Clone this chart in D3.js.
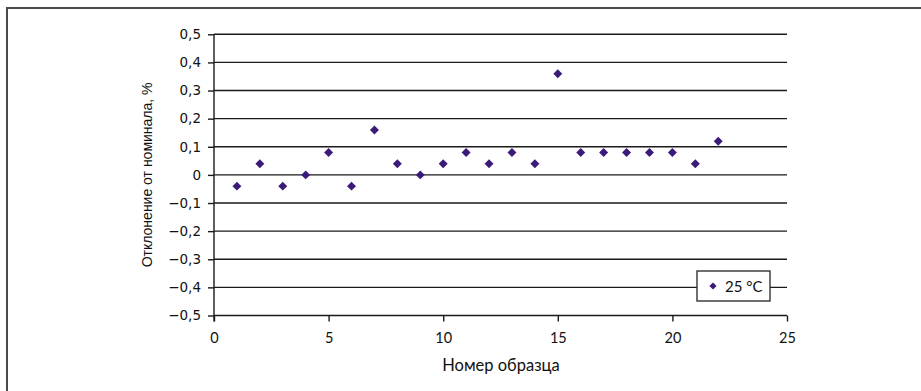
<!DOCTYPE html>
<html>
<head>
<meta charset="utf-8">
<script src="https://cdn.jsdelivr.net/npm/d3@7"></script>
<style>
  html, body { margin: 0; padding: 0; background: #fff; }
  svg { display: block; }
</style>
</head>
<body>
<svg id="chart" width="921" height="391"></svg>
<script>
// Sample numbers and their deviation from nominal, %
const samples = [1, 2, 3, 4, 5, 6, 7, 8, 9, 10, 11, 12, 13, 14, 15, 16, 17, 18, 19, 20, 21, 22];
const deviation = [-0.04, 0.04, -0.04, 0, 0.08, -0.04, 0.16, 0.04, 0, 0.04, 0.08,
                   0.04, 0.08, 0.04, 0.36, 0.08, 0.08, 0.08, 0.08, 0.08, 0.04, 0.12];
const xTicks = [0, 5, 10, 15, 20, 25];
const yTicks = [-0.5, -0.4, -0.3, -0.2, -0.1, 0, 0.1, 0.2, 0.3, 0.4, 0.5];
const seriesName = "25 °C";
const xTitle = "Номер образца";
const yTitle = "Отклонение от номинала, %";

const markColor = "#3b1b7a";
const svg = d3.select("#chart");

// outer frame (runs off the right and bottom edges)
svg.append("rect")
  .attr("x", 7).attr("y", 8)
  .attr("width", 930).attr("height", 400)
  .attr("fill", "none").attr("stroke", "#4a4a4a").attr("stroke-width", 2);

const plot = { left: 214, right: 787, top: 34.3, bottom: 315.5 };
const x = d3.scaleLinear().domain([0, 25]).range([plot.left, plot.right]);
const y = d3.scaleLinear().domain([-0.5, 0.5]).range([plot.bottom, plot.top]);

const fmt = v => {
  const s = d3.format(".1f")(Math.abs(v)).replace(".", ",");
  return v < 0 ? "\u2212" + s : (v === 0 ? "0" : s);
};

// horizontal gridlines
svg.append("g")
  .selectAll("line")
  .data(yTicks)
  .join("line")
  .attr("x1", plot.left).attr("x2", plot.right)
  .attr("y1", d => y(d)).attr("y2", d => y(d))
  .attr("stroke", "#1a1a1a").attr("stroke-width", 1.4);

// y axis
const yAxis = d3.axisLeft(y).tickValues(yTicks).tickFormat(fmt).tickSize(6).tickPadding(7);
const gy = svg.append("g").attr("transform", `translate(${plot.left},0)`).call(yAxis);
gy.select(".domain").remove();
gy.selectAll(".tick line").attr("stroke", "#1a1a1a").attr("stroke-width", 1.4);
gy.selectAll(".tick text")
  .attr("font-family", "DejaVu Sans, Verdana, sans-serif")
  .attr("font-size", 13.5).attr("fill", "#111");
svg.append("line")
  .attr("x1", plot.left).attr("x2", plot.left)
  .attr("y1", plot.top).attr("y2", plot.bottom + 6)
  .attr("stroke", "#1a1a1a").attr("stroke-width", 1.4);

// x axis
const xAxis = d3.axisBottom(x).tickValues(xTicks).tickSize(6).tickPadding(11);
const gx = svg.append("g").attr("transform", `translate(0,${plot.bottom})`).call(xAxis);
gx.select(".domain").remove();
gx.selectAll(".tick line").attr("stroke", "#1a1a1a").attr("stroke-width", 1.4);
gx.selectAll(".tick text")
  .attr("font-family", "Lato, sans-serif")
  .attr("font-size", 14.5).attr("fill", "#111");

// axis titles
svg.append("text")
  .attr("x", 501).attr("y", 371)
  .attr("text-anchor", "middle")
  .attr("font-family", "Lato, sans-serif").attr("font-size", 16.5).attr("fill", "#111")
  .text(xTitle);
svg.append("text")
  .attr("transform", `translate(152,${(plot.top + plot.bottom) / 2}) rotate(-90)`)
  .attr("text-anchor", "middle")
  .attr("font-family", "Liberation Sans, Arial, sans-serif").attr("font-size", 14).attr("fill", "#111")
  .text(yTitle);

// data points (diamonds)
const diamond = d3.symbol(d3.symbolSquare, 40);
svg.append("g")
  .selectAll("path")
  .data(samples.map((s, i) => ({ s, v: deviation[i] })))
  .join("path")
  .attr("d", diamond)
  .attr("transform", d => `translate(${x(d.s)},${y(d.v)}) rotate(45)`)
  .attr("fill", markColor);

// legend
const lg = svg.append("g").attr("transform", "translate(697,271)");
lg.append("rect").attr("width", 73).attr("height", 30)
  .attr("fill", "#fff").attr("stroke", "#333").attr("stroke-width", 1.4);
lg.append("path").attr("d", d3.symbol(d3.symbolSquare, 26))
  .attr("transform", "translate(16,15) rotate(45)").attr("fill", markColor);
lg.append("text").attr("x", 28).attr("y", 20.5)
  .attr("font-family", "Lato, sans-serif").attr("font-size", 15).attr("fill", "#111")
  .text(seriesName);
</script>
</body>
</html>
